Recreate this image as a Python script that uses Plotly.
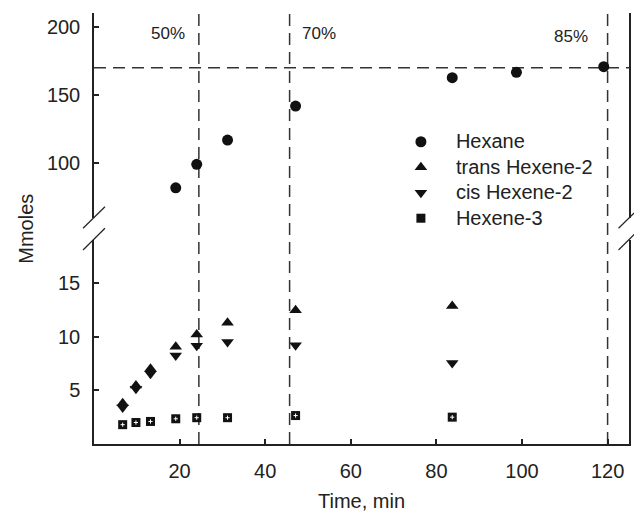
import plotly.graph_objects as go

# ---- data ----
hex_time = [19.1, 24.0, 31.2, 47.1, 83.7, 98.7, 119.1]
hexane = [82.1, 99.3, 117.0, 141.9, 162.7, 166.6, 170.7]

lo_time = [6.7, 9.8, 13.2, 19.1, 24.0, 31.2, 47.1, 83.7]
trans_hexene2 = [3.8, 5.45, 7.0, 9.05, 10.2, 11.3, 12.45, 12.85]
cis_hexene2 = [3.4, 5.15, 6.55, 8.25, 9.15, 9.5, 9.2, 7.55]
hexene3 = [1.8, 2.0, 2.1, 2.35, 2.45, 2.45, 2.65, 2.5]

series_names = ["Hexane", "trans Hexene-2", "cis Hexene-2", "Hexene-3"]

conv_times = [24.5, 45.7, 120]
conv_labels = ["50%", "70%", "85%"]
conv_label_x = [17.2, 52.5, 111.4]
conv_label_y = [195.2, 195.0, 193.0]
ref_level = 170

x_ticks = [20, 40, 60, 80, 100, 120]
y_lo_ticks = [5, 10, 15]
y_hi_ticks = [100, 150, 200]

INK = "#222222"
FONT = "Liberation Sans, Arial, sans-serif"


def lname(s):
    return '<span style="font-size:20px">' + s + "</span>"


fig = go.Figure()
fig.add_trace(go.Scatter(x=hex_time, y=hexane, mode="markers", name=lname(series_names[0]),
                         xaxis="x", yaxis="y2",
                         marker=dict(symbol="circle", size=11, color="#111111")))
fig.add_trace(go.Scatter(x=lo_time, y=trans_hexene2, mode="markers", name=lname(series_names[1]),
                         marker=dict(symbol="triangle-up", size=11, color="#111111")))
fig.add_trace(go.Scatter(x=lo_time, y=cis_hexene2, mode="markers", name=lname(series_names[2]),
                         marker=dict(symbol="triangle-down", size=11, color="#111111")))
fig.add_trace(go.Scatter(x=lo_time, y=hexene3, mode="markers", name=lname(series_names[3]),
                         legendgroup="h3",
                         marker=dict(symbol="square", size=9, color="#111111")))
fig.add_trace(go.Scatter(x=lo_time, y=hexene3, mode="markers", name=series_names[3],
                         legendgroup="h3", showlegend=False,
                         marker=dict(symbol="cross-thin", size=3, color="white",
                                     line=dict(color="white", width=1))))

dash = "12px,7px"
shapes = []
for t in conv_times:
    shapes.append(dict(type="line", xref="x", yref="paper", x0=t, x1=t, y0=0, y1=1,
                       line=dict(color="#333333", width=1.5, dash=dash), layer="below"))
shapes.append(dict(type="line", xref="paper", yref="y2", x0=0, x1=1, y0=ref_level, y1=ref_level,
                   line=dict(color="#333333", width=1.5, dash=dash), layer="below"))

# axis break marks (paper coordinates)
W, H, L, T = 537.0, 431.0, 94.0, 13.0


def px(xp):
    return (xp - L) / W


def py(yp):
    return (T + H - yp) / H


for cx in (94.0, 631.5):
    for (ya, yb) in ((228.3, 206.7), (250.0, 228.3)):
        shapes.append(dict(type="line", xref="paper", yref="paper",
                           x0=px(cx - 11), x1=px(cx + 11), y0=py(ya), y1=py(yb),
                           line=dict(color=INK, width=1.2)))

annotations = []
for lx, ly, lab in zip(conv_label_x, conv_label_y, conv_labels):
    annotations.append(dict(x=lx, y=ly, xref="x", yref="y2", text=lab, showarrow=False,
                            xanchor="center", yanchor="middle",
                            font=dict(size=17, color=INK, family=FONT)))
annotations.append(dict(x=px(25), y=0.5, xref="paper", yref="paper", text="Mmoles",
                        textangle=-90, showarrow=False, xanchor="center", yanchor="middle",
                        font=dict(size=20, color=INK, family=FONT)))
annotations.append(dict(x=0.5, y=py(501), xref="paper", yref="paper", text="Time, min",
                        showarrow=False, xanchor="center", yanchor="middle",
                        font=dict(size=20, color=INK, family=FONT)))

axis_common = dict(showline=True, linecolor=INK, linewidth=1.5, showgrid=False,
                   zeroline=False, ticks="inside", ticklen=5, tickwidth=1.5, tickcolor=INK,
                   tickfont=dict(size=20, color=INK, family=FONT))

fig.update_layout(
    width=634, height=513,
    margin=dict(l=94, r=3, t=13, b=69),
    paper_bgcolor="white", plot_bgcolor="white",
    font=dict(family=FONT, color=INK),
    showlegend=True,
    legend=dict(x=px(387), y=py(124), xanchor="left", yanchor="top",
                itemwidth=60, tracegroupgap=0, bgcolor="rgba(0,0,0,0)",
                font=dict(size=17.3, color=INK, family=FONT)),
    xaxis=dict(range=[0, 125], tickvals=x_ticks, anchor="y", domain=[0, 1],
               ticklabelstandoff=8, **axis_common),
    xaxis2=dict(range=[0, 125], overlaying="x", anchor="y2", side="top",
                showline=True, linecolor=INK, linewidth=1.5, showgrid=False,
                zeroline=False, ticks="", showticklabels=False),
    yaxis=dict(range=[0, 19], tickvals=y_lo_ticks, domain=[0, 204 / 431], anchor="x",
               mirror=True, ticklabelstandoff=8, **axis_common),
    yaxis2=dict(range=[60, 210], tickvals=y_hi_ticks, domain=[226 / 431, 1], anchor="x",
                mirror=True, ticklabelstandoff=8, **axis_common),
    shapes=shapes,
    annotations=annotations,
)

fig.write_html("out.html")
